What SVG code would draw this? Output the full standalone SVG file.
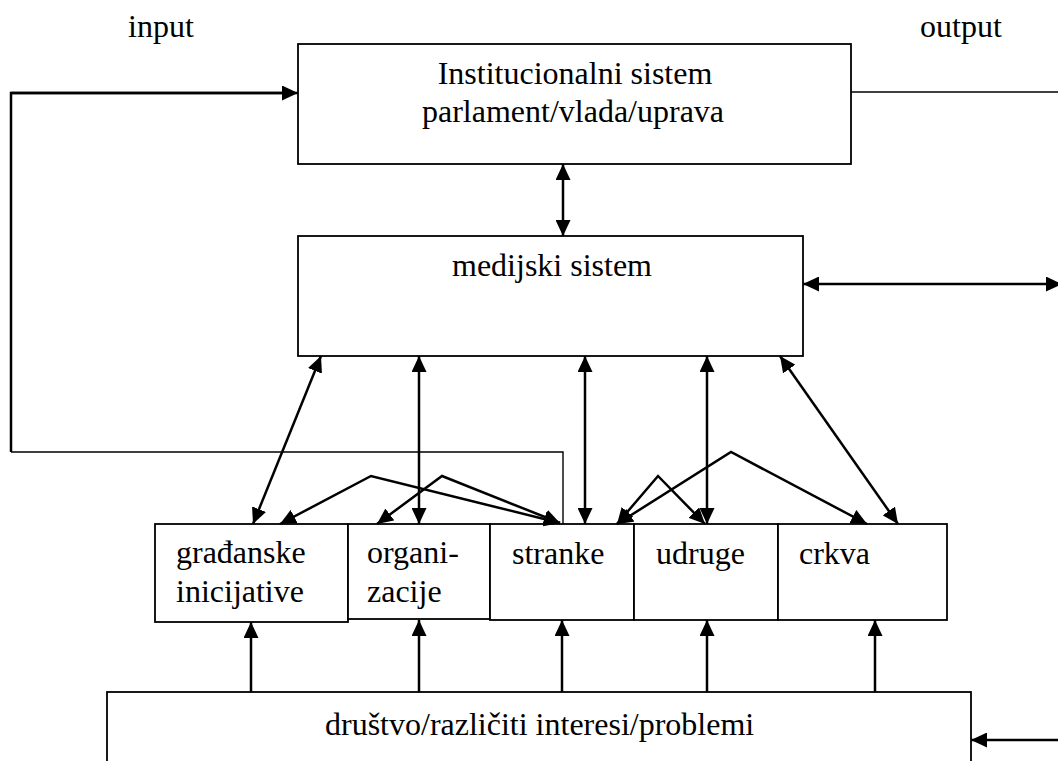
<svg xmlns="http://www.w3.org/2000/svg" width="1058" height="761" viewBox="0 0 1058 761">
<defs>
<marker id="ah" markerUnits="userSpaceOnUse" viewBox="0 0 16 15" refX="16" refY="7.5" markerWidth="16" markerHeight="15" orient="auto-start-reverse">
<path d="M0,0 L16,7.5 L0,15 z" fill="#000"/>
</marker>
<style>
.box{fill:#fff;stroke:#000;stroke-width:1.8}
.t{font-family:"Liberation Serif","Times New Roman",serif;font-size:32px;fill:#000}
.c{text-anchor:middle}
.a{fill:none;stroke:#000;stroke-width:2.5}
.ab{fill:none;stroke:#000;stroke-width:2.5;marker-end:url(#ah)}
.aa{fill:none;stroke:#000;stroke-width:2.5;marker-start:url(#ah);marker-end:url(#ah)}
.thin{fill:none;stroke:#000;stroke-width:1.4}
</style>
</defs>
<rect width="1058" height="761" fill="#fff"/>
<text class="t" x="128" y="37">input</text>
<text class="t" x="920" y="37">output</text>
<g id="institucionalni">
<rect class="box" x="298" y="44" width="553" height="120"/>
<text class="t c" x="575" y="84">Institucionalni sistem</text>
<text class="t c" x="573" y="122">parlament/vlada/uprava</text>
</g>
<g id="medijski">
<rect class="box" x="298" y="236" width="505" height="120"/>
<text class="t" x="452" y="276">medijski sistem</text>
</g>
<g id="gradjanske">
<rect class="box" x="155" y="524" width="193" height="98"/>
<text class="t" x="176" y="563">građanske</text>
<text class="t" x="176" y="602">inicijative</text>
</g>
<g id="organizacije">
<rect class="box" x="348" y="524" width="142" height="95"/>
<text class="t" x="367" y="563">organi-</text>
<text class="t" x="367" y="602">zacije</text>
</g>
<g id="stranke">
<rect class="box" x="490" y="524" width="144" height="96"/>
<text class="t" x="512" y="564">stranke</text>
</g>
<g id="udruge">
<rect class="box" x="634" y="524" width="144" height="96"/>
<text class="t" x="656" y="564">udruge</text>
</g>
<g id="crkva">
<rect class="box" x="778" y="524" width="169" height="96"/>
<text class="t" x="799" y="564">crkva</text>
</g>
<g id="drustvo">
<rect class="box" x="107" y="692" width="864" height="90"/>
<text class="t" x="325" y="735">društvo/različiti interesi/problemi</text>
</g>
<g id="connectors">
<polyline class="thin" points="563,524 563,452 11,452"/>
<polyline class="a" points="11,452 11,93 282,93" stroke-width="2"/>
<line class="ab" x1="11" y1="93" x2="298" y2="93" stroke-width="2"/>
<line class="thin" x1="851" y1="92" x2="1058" y2="92"/>
<line class="aa" x1="563" y1="164" x2="563" y2="236"/>
<line class="aa" x1="803" y1="284" x2="1062" y2="284"/>
<line class="aa" x1="321" y1="356" x2="253" y2="524"/>
<line class="aa" x1="419" y1="356" x2="419" y2="524"/>
<line class="aa" x1="585" y1="356" x2="585" y2="524"/>
<line class="aa" x1="707" y1="356" x2="707" y2="524"/>
<line class="aa" x1="780" y1="356" x2="898" y2="524"/>
<polyline class="aa" points="560,523 371,476 280,524"/>
<polyline class="aa" points="560,523 442,476 377,524"/>
<polyline class="aa" points="617,524 658,476 705,524"/>
<polyline class="aa" points="617,524 731,452 867,524"/>
<line class="ab" x1="251" y1="692" x2="251" y2="622"/>
<line class="ab" x1="419" y1="692" x2="419" y2="620"/>
<line class="ab" x1="562" y1="692" x2="562" y2="620"/>
<line class="ab" x1="707" y1="692" x2="707" y2="620"/>
<line class="ab" x1="875" y1="692" x2="875" y2="620"/>
<line class="ab" x1="1058" y1="740" x2="971" y2="740"/>
</g>
</svg>
